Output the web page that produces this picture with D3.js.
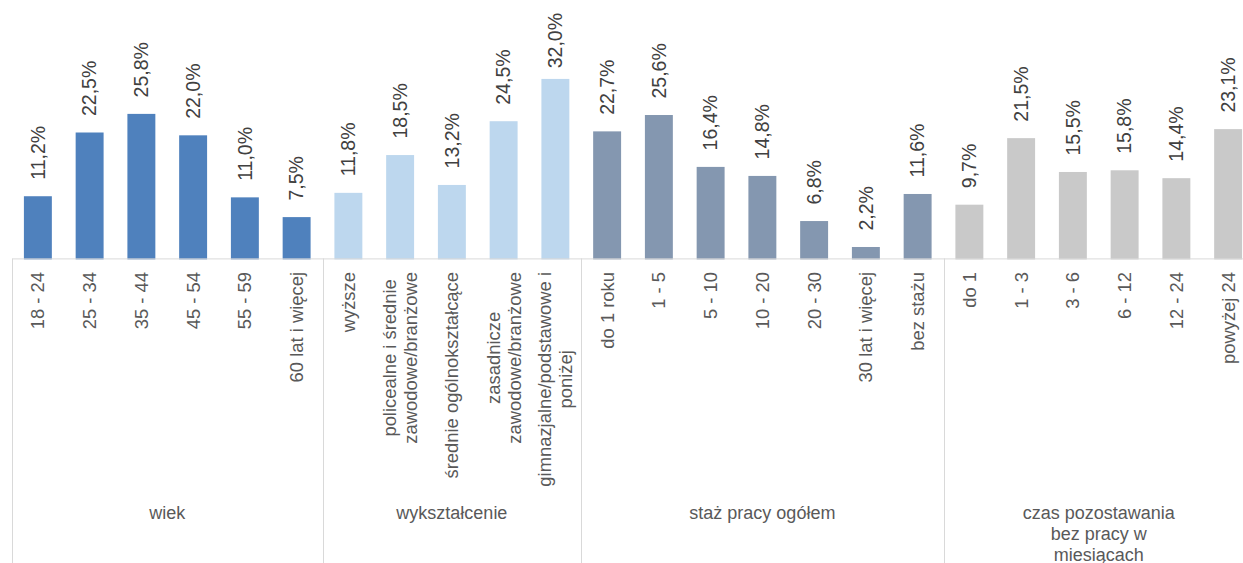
<!DOCTYPE html>
<html>
<head>
<meta charset="utf-8">
<script src="https://cdn.jsdelivr.net/npm/d3@7"></script>
<style>
  body { margin: 0; background: #fff; }
  svg { font-family: "Liberation Sans", Arial, sans-serif; display: block; }
</style>
</head>
<body>
<div id="canvas"></div>
<script>
// group labels (lines split with \n)
const groups = ["wiek", "wykształcenie", "staż pracy ogółem", "czas pozostawania\nbez pracy w\nmiesiącach"];

const wiekCats = ["18 - 24", "25 - 34", "35 - 44", "45 - 54", "55 - 59", "60 lat i więcej"];
const wiekVals = [11.2, 22.5, 25.8, 22.0, 11.0, 7.5];

const wyksztCats = ["wyższe", "policealne i średnie\nzawodowe/branżowe", "średnie ogólnokształcące",
  "zasadnicze\nzawodowe/branżowe", "gimnazjalne/podstawowe i\nponiżej"];
const wyksztVals = [11.8, 18.5, 13.2, 24.5, 32.0];

const stazCats = ["do 1 roku", "1 - 5", "5 - 10", "10 - 20", "20 - 30", "30 lat i więcej", "bez stażu"];
const stazVals = [22.7, 25.6, 16.4, 14.8, 6.8, 2.2, 11.6];

const czasCats = ["do 1", "1 - 3", "3 - 6", "6 - 12", "12 - 24", "powyżej 24"];
const czasVals = [9.7, 21.5, 15.5, 15.8, 14.4, 23.1];

const colors = ["#4F81BD", "#BDD7EE", "#8497B0", "#C9C9C9"];

const catLists = [wiekCats, wyksztCats, stazCats, czasCats];
const valLists = [wiekVals, wyksztVals, stazVals, czasVals];

// flat rows
let rows = [];
catLists.forEach((cats, g) => {
  cats.forEach((c, i) => rows.push({ group: g, name: c, value: valLists[g][i] }));
});

const width = 1243;
const height = 563;

const svg = d3.select("#canvas").append("svg")
  .attr("width", width)
  .attr("height", height);

const x = d3.scaleBand()
  .domain(d3.range(rows.length))
  .range([12, 1254])
  .paddingInner(0.46)
  .paddingOuter(0.23);

const y = d3.scaleLinear().domain([0, 45]).range([259.4, 5.6]);

const edge = (i) => 12 + i * x.step();

// bars
svg.selectAll("rect.bar")
  .data(rows)
  .enter()
  .append("rect")
  .attr("class", "bar")
  .attr("x", (d, i) => x(i))
  .attr("y", (d) => y(d.value))
  .attr("width", x.bandwidth())
  .attr("height", (d) => y(0) - y(d.value))
  .style("fill", (d) => colors[d.group]);

// axis line
const axis = svg.append("g")
  .attr("transform", `translate(0, ${y(0) - 1})`)
  .call(d3.axisBottom(x).tickSize(0).tickSizeOuter(0).tickFormat(""));
axis.select(".domain").attr("stroke", "#D9D9D9");

// group separators
let starts = [];
let acc = 0;
catLists.forEach((c) => { starts.push(acc); acc += c.length; });
svg.selectAll("line.sep")
  .data(starts)
  .enter()
  .append("line")
  .attr("class", "sep")
  .attr("x1", (d) => Math.round(edge(d)) + 0.5)
  .attr("x2", (d) => Math.round(edge(d)) + 0.5)
  .attr("y1", y(0) - 1)
  .attr("y2", height)
  .attr("stroke", "#D9D9D9");

// value labels
const valLabels = svg.selectAll("text.val")
  .data(rows)
  .enter()
  .append("text")
  .attr("class", "val")
  .attr("font-size", "19.5px")
  .attr("fill", "#404040")
  .attr("dy", "0.35em")
  .text((d) => d.value.toFixed(1).replace(".", ",") + "%");

valLabels.each(function (d, i) {
  const len = this.getComputedTextLength();
  const bottom = Math.max(y(d.value) - 16.5, 13 + len);
  d3.select(this).attr("transform",
    `translate(${x(i) + x.bandwidth() / 2}, ${bottom}) rotate(-90)`);
});

// category labels
const lh = 21;
rows.forEach((d, i) => {
  const lines = d.name.split("\n");
  const g = svg.append("g")
    .attr("transform", `translate(${x(i) + x.bandwidth() / 2}, 272) rotate(-90)`);
  const texts = g.selectAll("text")
    .data(lines)
    .enter()
    .append("text")
    .attr("font-size", "18.4px")
    .attr("fill", "#595959")
    .attr("text-anchor", "middle")
    .attr("y", (t, k) => (k - (lines.length - 1) / 2) * lh)
    .attr("dy", "0.35em")
    .text((t) => t);
  let maxLen = 0;
  texts.each(function () { maxLen = Math.max(maxLen, this.getComputedTextLength()); });
  texts.attr("x", -maxLen / 2);
});

// group labels
groups.forEach((gname, g) => {
  const cx = (edge(starts[g]) + edge(starts[g] + catLists[g].length)) / 2;
  svg.append("text")
    .attr("font-size", "18px")
    .attr("fill", "#595959")
    .attr("text-anchor", "middle")
    .selectAll("tspan")
    .data(gname.split("\n"))
    .enter()
    .append("tspan")
    .attr("x", cx)
    .attr("y", (t, k) => 518.5 + k * 21)
    .text((t) => t);
});
</script>
</body>
</html>
